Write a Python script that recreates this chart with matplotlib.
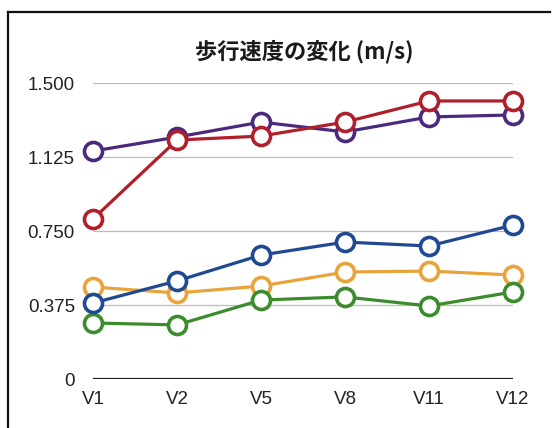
import matplotlib

matplotlib.use("Agg")
import matplotlib.pyplot as plt
from matplotlib.lines import Line2D

plt.rcParams["font.family"] = ["Liberation Sans", "DejaVu Sans"]

# visit labels and walking speed per group (m/s)
visits = ["V1", "V2", "V5", "V8", "V11", "V12"]
speed_orange = [0.466, 0.436, 0.471, 0.542, 0.547, 0.527]
speed_green = [0.284, 0.274, 0.400, 0.416, 0.370, 0.441]
speed_blue = [0.385, 0.497, 0.628, 0.694, 0.674, 0.780]
speed_purple = [1.155, 1.226, 1.302, 1.252, 1.328, 1.338]
speed_red = [0.811, 1.211, 1.231, 1.302, 1.409, 1.409]

yticks = [0, 0.375, 0.75, 1.125, 1.5]
ytick_labels = ["0", "0.375", "0.750", "1.125", "1.500"]

series = [
    (speed_orange, "#e8a43a"),
    (speed_green, "#3c8c2e"),
    (speed_blue, "#1f4a92"),
    (speed_purple, "#4b2a7e"),
    (speed_red, "#b01f2c"),
]

fig = plt.figure(figsize=(5.56, 4.28), dpi=100)
fig.patch.set_facecolor("white")
ax = fig.add_axes([93 / 556, 1 - 379 / 428, 420 / 556, 296 / 428])

x = list(range(len(visits)))
for vals, color in series:
    ax.plot(x, vals, color=color, lw=2.3, marker="o", markersize=13,
            markerfacecolor="white", markeredgecolor=color, markeredgewidth=2.6,
            clip_on=False, zorder=3)

ax.set_xlim(0, len(visits) - 1)
ax.set_ylim(0, 1.5)
ax.set_yticks(yticks)
ax.set_yticklabels(ytick_labels)
ax.set_xticks(x)
ax.set_xticklabels(visits)
ax.tick_params(axis="both", length=0, labelsize=13.5, colors="#222222")
ax.tick_params(axis="y", pad=13)
ax.tick_params(axis="x", pad=9)

for y in yticks[1:]:
    ax.axhline(y, color="#bdbdbd", lw=0.9, zorder=1)
ax.axhline(0, color="#222222", lw=1.6, zorder=2)

for side in ["top", "right", "left", "bottom"]:
    ax.spines[side].set_visible(False)

fig.text(304 / 556, 1 - 52 / 428, "歩行速度の変化 (m/s)", ha="center", va="center",
         fontsize=16, fontweight="bold", color="#1a1a1a",
         family=["Noto Sans CJK JP", "DejaVu Sans"])

# outer frame lines along the top and left edges
fig.add_artist(Line2D([8 / 556, 8 / 556], [0, 1 - 12 / 428], transform=fig.transFigure,
                      color="#111111", lw=1.6))
fig.add_artist(Line2D([8 / 556, 550 / 556], [1 - 12 / 428, 1 - 12 / 428],
                      transform=fig.transFigure, color="#111111", lw=1.6))

fig.savefig("out.png", dpi=100, facecolor="white")
plt.close(fig)
